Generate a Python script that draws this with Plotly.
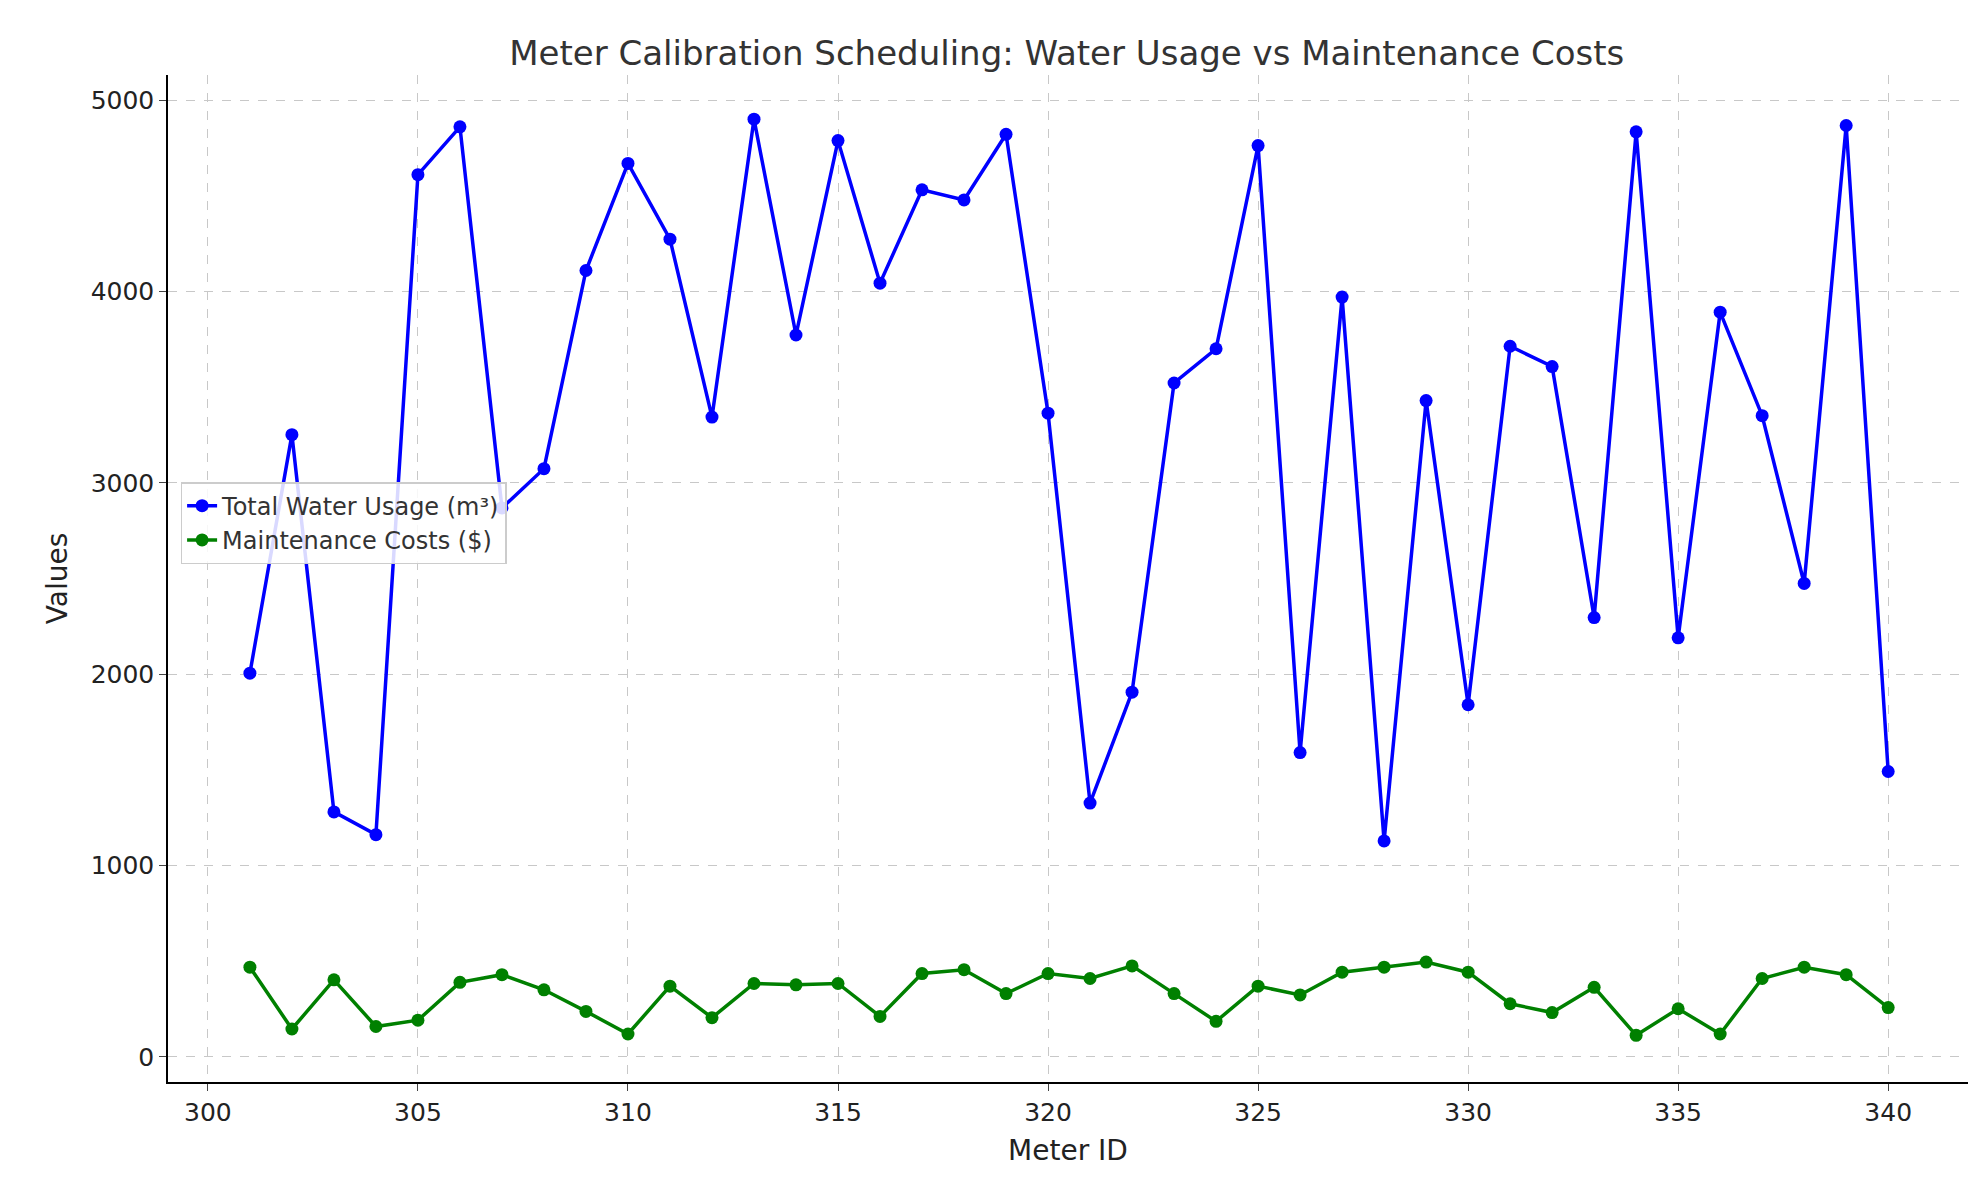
import plotly.graph_objects as go

meter_ids = list(range(301, 341))
water_usage = [2005, 3252, 1280, 1161, 4611, 4861, 2869, 3074, 4110, 4670,
               4274, 3344, 4901, 3773, 4789, 4044, 4532, 4479, 4822, 3364,
               1326, 1906, 3522, 3701, 4763, 1590, 3971, 1128, 3430, 1840,
               3714, 3608, 2296, 4835, 2190, 3892, 3351, 2474, 4868, 1491]
maint_costs = [468, 145, 402, 158, 191, 389, 429, 350, 237, 119,
               369, 204, 383, 376, 383, 211, 435, 455, 330, 435,
               409, 475, 330, 185, 369, 323, 442, 468, 495, 442,
               277, 231, 363, 112, 251, 119, 409, 468, 429, 257]

fig = go.Figure()
fig.add_trace(go.Scatter(x=meter_ids, y=water_usage, mode="lines+markers",
                         name="Total Water Usage (m³)",
                         line=dict(color="#0000ff", width=3.5), marker=dict(size=13, color="#0000ff")))
fig.add_trace(go.Scatter(x=meter_ids, y=maint_costs, mode="lines+markers",
                         name="Maintenance Costs ($)",
                         line=dict(color="#008000", width=3.5), marker=dict(size=13, color="#008000")))

grid = dict(showgrid=True, gridcolor="#c8c8c8", griddash="dash", gridwidth=1,
            showline=True, linecolor="black", linewidth=1.5, ticks="outside",
            ticklen=7, tickfont=dict(size=25, color="#222"), zeroline=False)
fig.update_xaxes(range=[299.05, 341.9], dtick=5, title=dict(text="Meter ID", font=dict(size=28, color="#222")), **grid)
fig.update_yaxes(range=[-132, 5132], dtick=1000, title=dict(text="Values", font=dict(size=28, color="#222")), **grid)
fig.update_layout(
    width=1979, height=1180,
    paper_bgcolor="white", plot_bgcolor="white",
    font=dict(family="DejaVu Sans"),
    title=dict(text="Meter Calibration Scheduling: Water Usage vs Maintenance Costs",
               x=0.535, xanchor="center", y=0.972, font=dict(size=34, color="#333")),
    margin=dict(l=160, r=19, t=67, b=106),
    legend=dict(x=0.007, y=0.555, xanchor="left", yanchor="middle",
                bordercolor="#cccccc", borderwidth=1.5, bgcolor="rgba(255,255,255,0.85)",
                font=dict(size=24, color="#333")),
)
fig.write_html("out.html")
